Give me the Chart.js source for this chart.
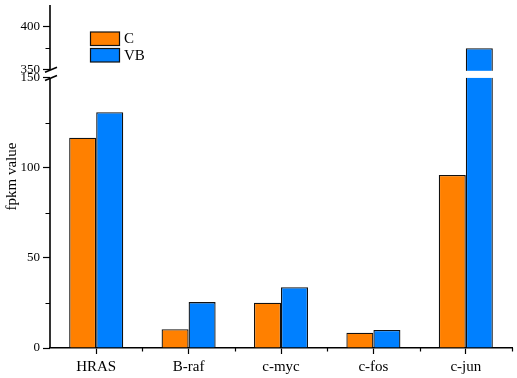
<!DOCTYPE html>
<html lang="en">
<head>
  <meta charset="UTF-8" />
  <title>fpkm value</title>
  <script src="https://cdn.jsdelivr.net/npm/chart.js"></script>
  <style>
    html, body { margin: 0; padding: 0; background: #fff; }
    .wrap { width: 517px; height: 378px; }
  </style>
</head>
<body>
  <div class="wrap"><canvas id="grafico"></canvas></div>
  <script>
    // dados
    const categorias = ["HRAS", "B-raf", "c-myc", "c-fos", "c-jun"];
    const valoresC = [116.8, 10.4, 25.2, 8.5, 96.1];
    const valoresVB = [130.9, 25.5, 33.7, 10, 375];
    const ticksPrincipais = [0, 50, 100, 150, 350, 400];
    const ticksMenores = [25, 75, 125, 375];

    // eixo quebrado: 0-150 em baixo, 350-425 em cima
    const QUEBRA_BAIXO = 150, QUEBRA_ALTO = 350, FOLGA = 4.5, ESCALA_ALTA = 0.48;
    function paraEixo(v) {
      return v <= QUEBRA_BAIXO ? v : QUEBRA_BAIXO + FOLGA + (v - QUEBRA_ALTO) * ESCALA_ALTA;
    }
    function doEixo(d) {
      return d <= QUEBRA_BAIXO + FOLGA / 2 ? d : QUEBRA_ALTO + (d - QUEBRA_BAIXO - FOLGA) / ESCALA_ALTA;
    }

    const fonte = "'Liberation Serif', 'Times New Roman', serif";

    const pluginEixos = {
      id: "eixos",
      afterDatasetsDraw(chart) {
        const ctx = chart.ctx;
        const y = chart.scales.y, x = chart.scales.x;
        const left = chart.chartArea.left;
        const yBaixo = y.getPixelForValue(QUEBRA_BAIXO);
        const yAlto = y.getPixelForValue(paraEixo(QUEBRA_ALTO));
        ctx.save();
        // lacuna branca nas barras que passam da quebra
        chart.data.datasets.forEach((ds, i) => {
          chart.getDatasetMeta(i).data.forEach((bar, j) => {
            if (ds.valoresReais[j] > QUEBRA_ALTO) {
              ctx.fillStyle = "#fff";
              ctx.fillRect(bar.x - bar.width / 2 - 1, yAlto + 1, bar.width + 2, yBaixo - yAlto - 1);
            }
          });
        });
        // linha do eixo y com quebra
        ctx.strokeStyle = "#000";
        ctx.lineWidth = 1.6;
        ctx.beginPath();
        ctx.moveTo(left, chart.chartArea.bottom);
        ctx.lineTo(left, yBaixo);
        ctx.moveTo(left, yAlto);
        ctx.lineTo(left, chart.chartArea.top);
        ctx.stroke();
        ctx.beginPath();
        ctx.moveTo(left - 5, yBaixo + 2.5);
        ctx.lineTo(left + 7, yBaixo - 2.5);
        ctx.moveTo(left - 5, yAlto + 2.5);
        ctx.lineTo(left + 7, yAlto - 2.5);
        ctx.stroke();
        // ticks menores
        ctx.lineWidth = 1.2;
        ctx.beginPath();
        ticksMenores.forEach(v => {
          const py = Math.round(y.getPixelForValue(paraEixo(v))) + 0.5;
          ctx.moveTo(left - 4.5, py);
          ctx.lineTo(left, py);
        });
        for (let i = 0; i < categorias.length; i++) {
          const px = Math.round(x.getPixelForValue(i) + (x.getPixelForValue(1) - x.getPixelForValue(0)) / 2) + 0.5;
          ctx.moveTo(px, chart.chartArea.bottom);
          ctx.lineTo(px, chart.chartArea.bottom + 3.5);
        }
        ctx.stroke();
        // legenda
        const itens = [["C", "#FF8000", 32], ["VB", "#0080FF", 48.5]];
        ctx.font = "15px " + fonte;
        ctx.textBaseline = "middle";
        itens.forEach(([nome, cor, topo]) => {
          ctx.fillStyle = cor;
          ctx.fillRect(90.5, topo, 29, 13.5);
          ctx.strokeStyle = "#111";
          ctx.lineWidth = 1.2;
          ctx.strokeRect(90.5, topo, 29, 13.5);
          ctx.fillStyle = "#000";
          ctx.fillText(nome, 124, topo + 7.5);
        });
        ctx.restore();
      },
    };

    new Chart(document.getElementById("grafico"), {
      type: "bar",
      data: {
        labels: categorias,
        datasets: [
          {
            label: "C",
            data: valoresC.map(paraEixo),
            valoresReais: valoresC,
            backgroundColor: "#FF8000",
            borderColor: "#111",
            borderWidth: 1.3,
          },
          {
            label: "VB",
            data: valoresVB.map(paraEixo),
            valoresReais: valoresVB,
            backgroundColor: "#0080FF",
            borderColor: "#111",
            borderWidth: 1.3,
          },
        ],
      },
      options: {
        responsive: true,
        maintainAspectRatio: false,
        animation: false,
        categoryPercentage: 0.585,
        barPercentage: 1,
        layout: { padding: { top: 5, right: 5, left: 0, bottom: 0 } },
        plugins: {
          legend: { display: false },
          tooltip: { enabled: false },
        },
        scales: {
          x: {
            grid: {
              display: true,
              drawOnChartArea: false,
              offset: false,
              tickLength: 6,
              tickWidth: 1.2,
              tickColor: "#000",
            },
            border: { color: "#000", width: 1.6 },
            ticks: {
              color: "#000",
              padding: 4,
              font: { family: fonte, size: 15 },
            },
            afterFit(s) {
              s.height = 30;
              s.paddingLeft = 0;
              s.paddingRight = 0;
            },
          },
          y: {
            min: 0,
            max: 190.5,
            afterBuildTicks(s) {
              s.ticks = ticksPrincipais.map(v => ({ value: paraEixo(v) }));
            },
            grid: {
              display: true,
              drawOnChartArea: false,
              tickLength: 7,
              tickWidth: 1.2,
              tickColor: "#000",
            },
            border: { display: false },
            ticks: {
              color: "#000",
              padding: 3,
              font: { family: fonte, size: 13 },
              callback: v => String(Math.round(doEixo(v))),
            },
            title: {
              display: true,
              text: "fpkm value",
              color: "#000",
              font: { family: fonte, size: 15 },
              padding: { top: 3, bottom: 0 },
            },
            afterFit(s) {
              s.width = 50;
              s.paddingTop = 0;
              s.paddingBottom = 0;
            },
          },
        },
      },
      plugins: [pluginEixos],
    });
  </script>
</body>
</html>
